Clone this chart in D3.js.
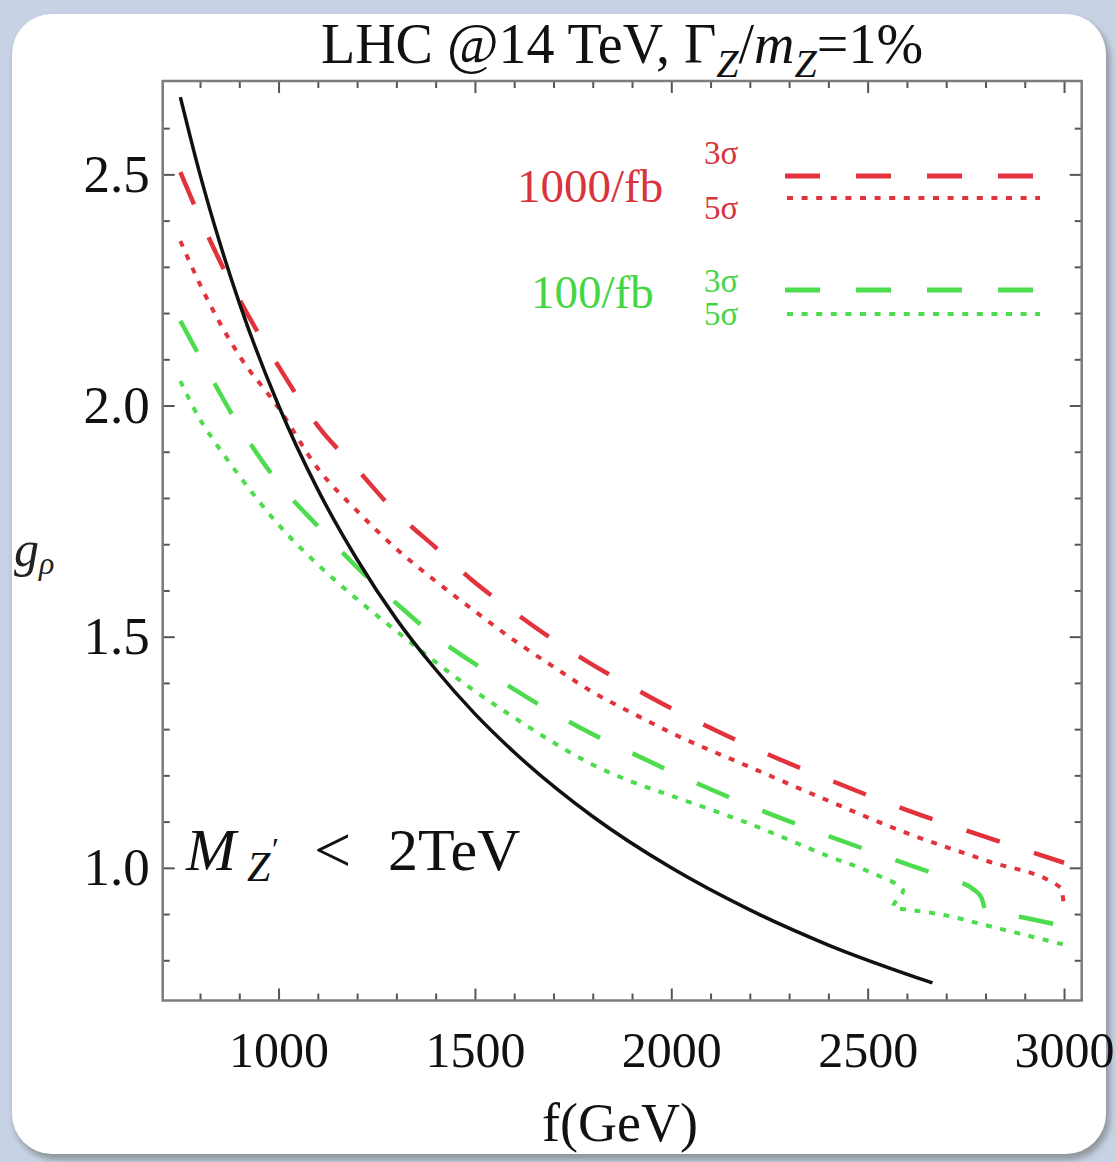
<!DOCTYPE html>
<html>
<head>
<meta charset="utf-8">
<script src="https://cdn.jsdelivr.net/npm/d3@7"></script>
<style>
  html, body { margin: 0; padding: 0; background: #fff; }
  svg { display: block; }
  text { font-family: "Liberation Serif", "Times New Roman", serif; }
</style>
</head>
<body>
<svg id="chart" width="1116" height="1162"></svg>
<script>
// values (f in GeV, g_rho)
const f_black = [750, 800, 850, 900, 1000, 1100, 1200, 1300, 1400, 1500, 1600, 1800, 2000, 2200, 2400, 2665]
const g_black = [2.667, 2.5, 2.353, 2.222, 2.0, 1.818, 1.667, 1.538, 1.429, 1.333, 1.25, 1.111, 1.0, 0.909, 0.833, 0.751]

const f_red3 = [750, 800, 900, 1000, 1100, 1200, 1300, 1400, 1500, 1600, 1700, 1800, 1900, 2000, 2200, 2400, 2600, 2800, 3000]
const g_red3 = [2.505, 2.405, 2.23, 2.085, 1.956, 1.862, 1.768, 1.693, 1.617, 1.553, 1.493, 1.439, 1.391, 1.345, 1.263, 1.191, 1.125, 1.067, 1.011]

const f_red5 = [750, 800, 900, 1000, 1100, 1200, 1300, 1400, 1500, 1600, 1700, 1800, 1900, 2000, 2200, 2400, 2600, 2800, 2992, 3000]
const g_red5 = [2.356, 2.262, 2.108, 1.995, 1.864, 1.772, 1.69, 1.62, 1.555, 1.492, 1.435, 1.38, 1.335, 1.292, 1.218, 1.145, 1.075, 1.016, 0.957, 0.916]

const f_green3 = [750, 800, 900, 1000, 1100, 1200, 1300, 1400, 1500, 1600, 1700, 1800, 1900, 2000, 2200, 2400, 2600, 2700, 2770, 2790, 2800, 2900, 3000]
const g_green3 = [2.183, 2.105, 1.955, 1.832, 1.739, 1.65, 1.572, 1.5, 1.441, 1.386, 1.335, 1.289, 1.248, 1.208, 1.134, 1.069, 1.008, 0.978, 0.953, 0.935, 0.91, 0.892, 0.874]

const f_green5 = [750, 800, 900, 1000, 1100, 1200, 1300, 1400, 1500, 1600, 1700, 1800, 1900, 2000, 2200, 2400, 2500, 2590, 2575, 2565, 2600, 2700, 2800, 2900, 3000]
const g_green5 = [2.053, 1.97, 1.848, 1.742, 1.656, 1.581, 1.512, 1.445, 1.382, 1.325, 1.271, 1.223, 1.186, 1.156, 1.095, 1.025, 0.993, 0.952, 0.932, 0.915, 0.91, 0.897, 0.876, 0.855, 0.834]

const x_ticks = [1000, 1500, 2000, 2500, 3000]
const y_ticks = [1.0, 1.5, 2.0, 2.5]
const lumi_labels = ["1000/fb", "100/fb"]
const sigma_labels = ["3σ", "5σ"]

const red = "#e2333c"
const green = "#4ddc4d"
const dash = "35,36"
const dots = "6,8.6"

const svg = d3.select("#chart")

// page background and rounded card
const defs = svg.append("defs")
defs.append("filter").attr("id", "shadow")
  .append("feGaussianBlur").attr("stdDeviation", 3)
defs.append("clipPath").attr("id", "plotclip")
  .append("rect").attr("x", 163).attr("y", 81).attr("width", 919).attr("height", 920)

svg.append("rect").attr("width", 1116).attr("height", 1162).attr("fill", "#c7d3e4")
svg.append("rect").attr("x", 14).attr("y", 18).attr("width", 1096).attr("height", 1142)
  .attr("rx", 42).attr("fill", "#8e969f").attr("filter", "url(#shadow)")
svg.append("rect").attr("x", 12).attr("y", 14).attr("width", 1094).attr("height", 1140)
  .attr("rx", 40).attr("fill", "#fff")

// scales
const x = d3.scaleLinear().domain([705, 3045]).range([162.7, 1081.7])
const y = d3.scaleLinear().domain([0.713, 2.702]).range([1000.5, 81])

const x_minor = d3.range(800, 3001, 100).filter(v => !x_ticks.includes(v))
const y_minor = d3.range(8, 27).map(v => v / 10).filter(v => !y_ticks.includes(v))

function tick_axis(axis, transform){
  const g = svg.append("g").attr("transform", transform).call(axis)
  g.select(".domain").remove()
  g.selectAll("line").attr("stroke", "#555").attr("stroke-width", 2)
  return g
}

// major + minor ticks on all four sides, pointing inward
tick_axis(d3.axisBottom(x).tickValues(x_minor).tickSize(-7).tickFormat(""), "translate(0,1000.5)")
tick_axis(d3.axisTop(x).tickValues(x_minor).tickSize(-7).tickFormat(""), "translate(0,81)")
tick_axis(d3.axisTop(x).tickValues(x_ticks).tickSize(-12).tickFormat(""), "translate(0,81)")
tick_axis(d3.axisLeft(y).tickValues(y_minor).tickSize(-7).tickFormat(""), "translate(162.7,0)")
tick_axis(d3.axisRight(y).tickValues(y_minor).tickSize(-7).tickFormat(""), "translate(1081.7,0)")
tick_axis(d3.axisRight(y).tickValues(y_ticks).tickSize(-12).tickFormat(""), "translate(1081.7,0)")

const xg = tick_axis(d3.axisBottom(x).tickValues(x_ticks).tickSize(-12).tickPadding(31).tickFormat(d3.format("d")), "translate(0,1000.5)")
xg.selectAll("text").attr("font-size", 50).attr("fill", "#111")
  .style("font-family", "'Liberation Serif', serif")

const yg = tick_axis(d3.axisLeft(y).tickValues(y_ticks).tickSize(-12).tickPadding(13).tickFormat(d3.format(".1f")), "translate(162.7,0)")
yg.selectAll("text").attr("font-size", 53).attr("fill", "#111")
  .style("font-family", "'Liberation Serif', serif")

// frame
svg.append("rect").attr("x", 162.7).attr("y", 81).attr("width", 919).attr("height", 919.5)
  .attr("fill", "none").attr("stroke", "#7c7c7c").attr("stroke-width", 2.5)

// curves
const smooth = d3.line().x(d => x(d[0])).y(d => y(d[1])).curve(d3.curveMonotoneX)
const loose = d3.line().x(d => x(d[0])).y(d => y(d[1])).curve(d3.curveCatmullRom.alpha(0.5))
const plot = svg.append("g").attr("clip-path", "url(#plotclip)")

const series = [
  {f: f_red3, g: g_red3, color: red, dash: dash, width: 4.5, line: smooth},
  {f: f_red5, g: g_red5, color: red, dash: dots, width: 4, line: smooth},
  {f: f_green3, g: g_green3, color: green, dash: dash, width: 4.5, line: smooth},
  {f: f_green5, g: g_green5, color: green, dash: dots, width: 4, line: loose},
  {f: f_black, g: g_black, color: "#111", dash: null, width: 3.5, line: smooth},
]

for (const s of series){
  plot.append("path")
    .attr("d", s.line(d3.zip(s.f, s.g)))
    .attr("fill", "none")
    .attr("stroke", s.color)
    .attr("stroke-width", s.width)
    .attr("stroke-dasharray", s.dash)
}

// legend
const legend = [
  {label: lumi_labels[0], text: "#d8343d", stroke: red, lx: 517, ly: 202, s3: 164, s5: 219, l3: 176, l5: 198},
  {label: lumi_labels[1], text: "#45d645", stroke: green, lx: 531, ly: 308, s3: 292, s5: 325, l3: 290, l5: 314},
]
for (const L of legend){
  svg.append("text").attr("x", L.lx).attr("y", L.ly).attr("font-size", 47)
    .attr("fill", L.text).text(L.label)
  svg.append("text").attr("x", 704).attr("y", L.s3).attr("font-size", 33)
    .attr("fill", L.text).text(sigma_labels[0])
  svg.append("text").attr("x", 704).attr("y", L.s5).attr("font-size", 33)
    .attr("fill", L.text).text(sigma_labels[1])
  svg.append("line").attr("x1", 785).attr("x2", 1040).attr("y1", L.l3).attr("y2", L.l3)
    .attr("stroke", L.stroke).attr("stroke-width", 5)
    .attr("stroke-dasharray", dash)
  svg.append("line").attr("x1", 787).attr("x2", 1040).attr("y1", L.l5).attr("y2", L.l5)
    .attr("stroke", L.stroke).attr("stroke-width", 4)
    .attr("stroke-dasharray", dots)
}

// title
const title = svg.append("text").attr("x", 622).attr("y", 63).attr("text-anchor", "middle")
  .attr("font-size", 56).attr("fill", "#111")
title.append("tspan").text("LHC @14 TeV, Γ")
title.append("tspan").attr("font-style", "italic").attr("font-size", 40).attr("dy", 14).text("Z")
title.append("tspan").attr("dy", -14).text("/")
title.append("tspan").attr("font-style", "italic").text("m")
title.append("tspan").attr("font-style", "italic").attr("font-size", 40).attr("dy", 14).text("Z")
title.append("tspan").attr("dy", -14).text("=1%")

// axis titles
svg.append("text").attr("x", 620).attr("y", 1141).attr("text-anchor", "middle")
  .attr("font-size", 54).attr("fill", "#111").text("f(GeV)")

const ylab = svg.append("text").attr("x", 14).attr("y", 566).attr("font-size", 50).attr("fill", "#222")
ylab.append("tspan").attr("font-style", "italic").text("g")
ylab.append("tspan").attr("font-style", "italic").attr("font-size", 32).attr("dy", 8).text("ρ")

// annotation M_Z' < 2TeV
const ann = svg.append("g").attr("fill", "#111")
ann.append("text").attr("x", 186).attr("y", 870).attr("font-size", 60).attr("font-style", "italic").text("M")
ann.append("text").attr("x", 247).attr("y", 881).attr("font-size", 42).attr("font-style", "italic").text("Z")
ann.append("text").attr("x", 272).attr("y", 860).attr("font-size", 32).text("′")
ann.append("text").attr("x", 314).attr("y", 872).attr("font-size", 66).text("<")
ann.append("text").attr("x", 388).attr("y", 870).attr("font-size", 60).text("2TeV")
</script>
</body>
</html>
